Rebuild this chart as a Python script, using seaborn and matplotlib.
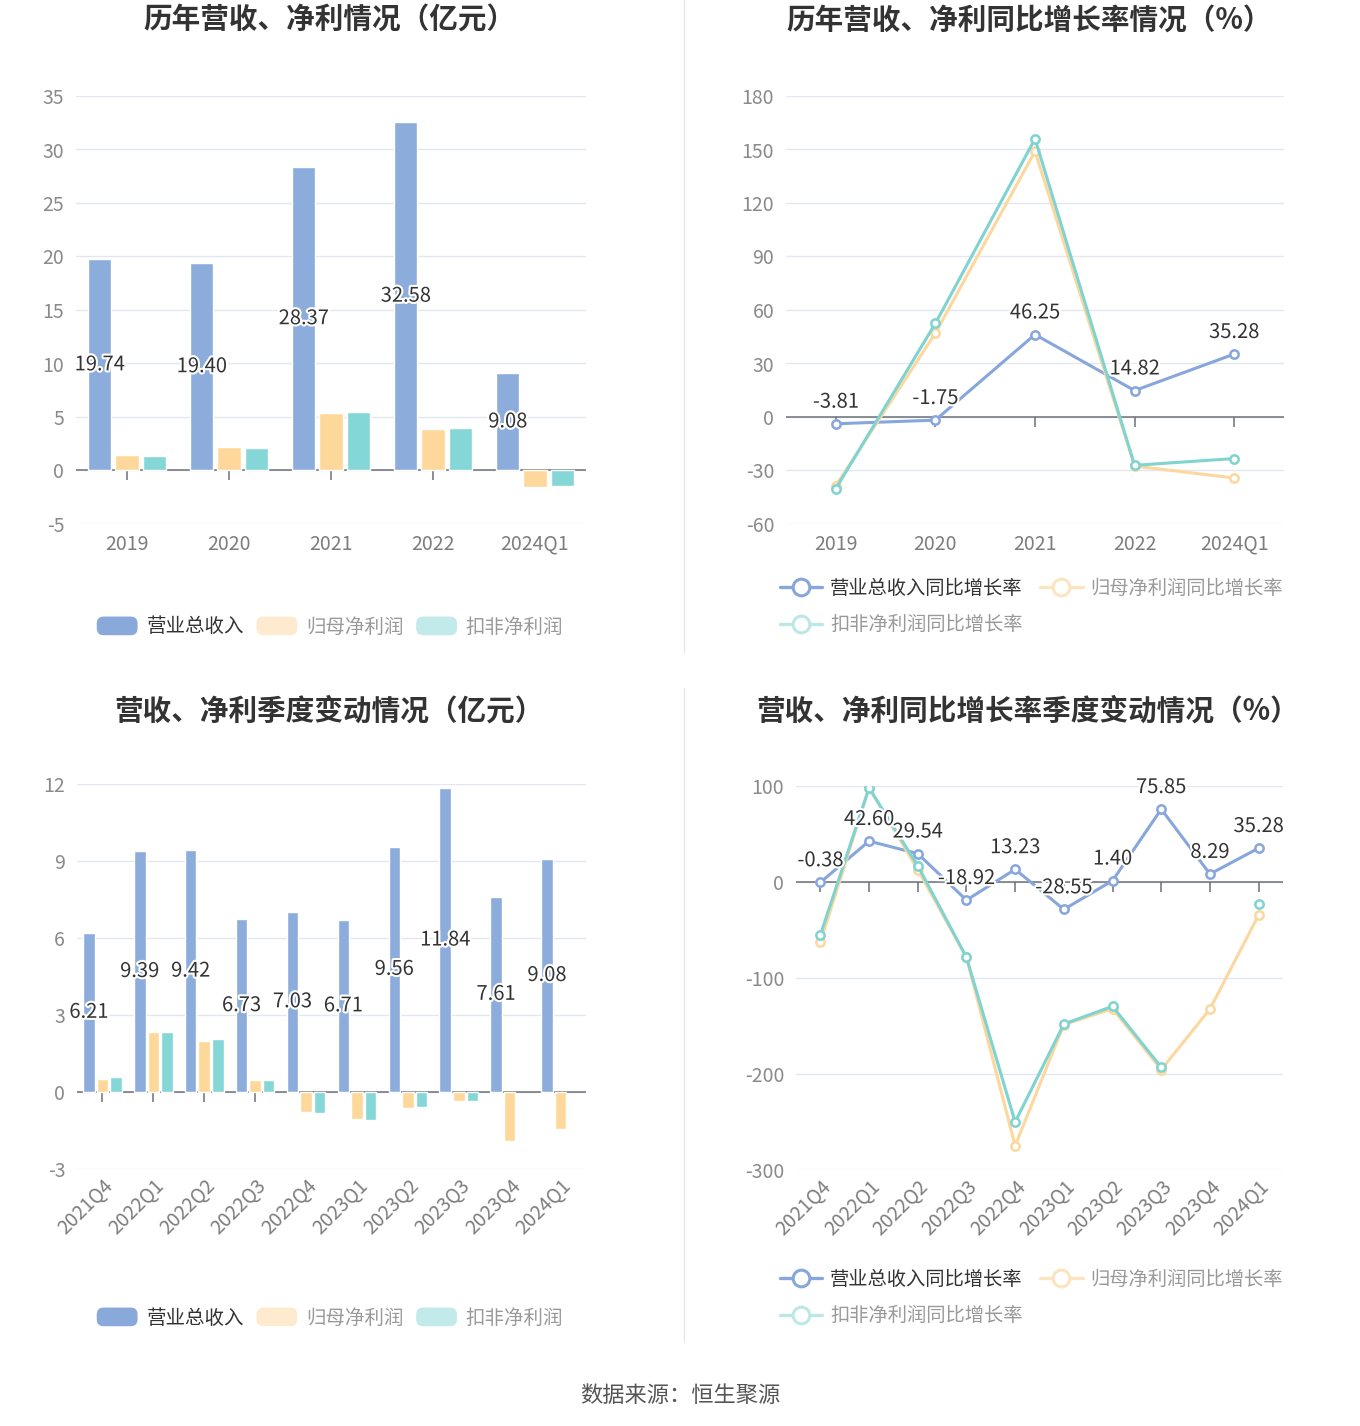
import numpy as np
import pandas as pd
import matplotlib.pyplot as plt
import matplotlib.patheffects as pe
from matplotlib.patches import Patch, FancyBboxPatch
from matplotlib.lines import Line2D
from matplotlib.legend_handler import HandlerPatch
import seaborn as sns

# data
years = ['2019', '2020', '2021', '2022', '2024Q1']
rev_year = [19.74, 19.40, 28.37, 32.58, 9.08]
np_year = [1.46, 2.15, 5.38, 3.89, -1.55]
dnp_year = [1.36, 2.12, 5.47, 3.99, -1.42]

rev_yoy_year = [-3.81, -1.75, 46.25, 14.82, 35.28]
np_yoy_year = [-38.5, 47.0, 149.0, -27.5, -34.2]
dnp_yoy_year = [-40.2, 52.5, 156.0, -27.1, -23.3]

quarters = ['2021Q4', '2022Q1', '2022Q2', '2022Q3', '2022Q4',
            '2023Q1', '2023Q2', '2023Q3', '2023Q4', '2024Q1']
rev_q = [6.21, 9.39, 9.42, 6.73, 7.03, 6.71, 9.56, 11.84, 7.61, 9.08]
np_q = [0.52, 2.32, 1.99, 0.47, -0.78, -1.07, -0.61, -0.35, -1.92, -1.43]
dnp_q = [0.57, 2.32, 2.06, 0.46, -0.81, -1.10, -0.59, -0.37, np.nan, np.nan]

rev_yoy_q = [-0.38, 42.60, 29.54, -18.92, 13.23, -28.55, 1.40, 75.85, 8.29, 35.28]
np_yoy_q = [-62.8, 98.0, 12.8, -78.5, -274.7, -148.6, -132.0, -195.5, -132.3, -34.4]
dnp_yoy_q = [-55.2, 98.0, 17.0, -78.5, -250.0, -148.0, -129.5, -193.0, np.nan, -23.3]

bar_names = ['营业总收入', '归母净利润', '扣非净利润']
line_names = ['营业总收入同比增长率', '归母净利润同比增长率', '扣非净利润同比增长率']
bar_colors = ['#8CACDB', '#FED89B', '#85D6D6']
line_colors = ['#87A6DB', '#FCD79E', '#7FD3D0']
faded_bar = ['#88A9DA', '#FEEBCF', '#C3EAEB']
faded_line = ['#87A6DB', '#FCE4BF', '#BDE7E6']

sns.set_style('white')
plt.rcParams['font.family'] = ['Noto Sans CJK SC', 'DejaVu Sans']
plt.rcParams['axes.unicode_minus'] = False

W, H = 1360, 1426
fig = plt.figure(figsize=(W / 100, H / 100), dpi=100)


def px(x0, y_top, x1, y_bot):
    return [x0 / W, 1 - y_bot / H, (x1 - x0) / W, (y_bot - y_top) / H]


stroke = [pe.withStroke(linewidth=3, foreground='white')]


class RoundHandler(HandlerPatch):
    def create_artists(self, legend, orig_handle, xdescent, ydescent,
                       width, height, fontsize, trans):
        p = FancyBboxPatch((-xdescent, -ydescent), width, height,
                           boxstyle='round,pad=0,rounding_size=5',
                           fc=orig_handle.get_facecolor(), ec='none',
                           transform=trans)
        return [p]


def style_axes(ax, ylim, yticks, rot):
    ax.set_ylim(*ylim)
    ax.set_yticks(yticks)
    ax.set_xlim(-0.5, len(ax.get_xticks()) - 0.5)
    for s in ax.spines.values():
        s.set_visible(False)
    ax.yaxis.grid(True, color='#E3E7EF', lw=1, zorder=0)
    ax.set_axisbelow(True)
    ax.axhline(0, color='#6E7079', lw=1.1, zorder=1.2)
    n = len(ax.get_xticks())
    ax.plot(range(n), [0] * n, ls='none', marker=3, ms=7, mew=1.1,
            color='#6E7079', zorder=1.1)
    ax.tick_params(axis='y', length=0, pad=8.5, labelsize=14, labelcolor='#8A8A8A')
    ax.tick_params(axis='x', length=0, labelsize=14, labelcolor='#7D7D7D')
    ax.set_xlabel('')
    ax.set_ylabel('')
    if rot:
        ax.tick_params(axis='x', pad=4)
        for t in ax.get_xticklabels():
            t.set_rotation(45)
            t.set_ha('right')
            t.set_va('top')
            t.set_rotation_mode('anchor')
    else:
        ax.tick_params(axis='x', pad=7)


def bar_panel(ax, cats, rev, np_, dnp, ylim, yticks, rot):
    df = pd.DataFrame({
        'cat': cats * 3,
        'series': [bar_names[0]] * len(cats) + [bar_names[1]] * len(cats) + [bar_names[2]] * len(cats),
        'val': list(rev) + list(np_) + list(dnp),
    })
    sns.barplot(data=df, x='cat', y='val', hue='series', hue_order=bar_names,
                palette=bar_colors, saturation=1, width=0.8, gap=0.15,
                errorbar=None, legend=False, ax=ax, zorder=2)
    texts = ax.bar_label(ax.containers[0], fmt='%.2f', label_type='center',
                         fontsize=14.5, color='#333333')
    for t in texts:
        t.set_path_effects(stroke)
    style_axes(ax, ylim, yticks, rot)


def line_panel(ax, cats, series, ylim, yticks, rot):
    x = np.arange(len(cats))
    for vals, color in zip(series, line_colors):
        d = pd.DataFrame({'x': x, 'v': vals})
        d['seg'] = d['v'].isna().cumsum()
        d = d.dropna()
        sns.lineplot(data=d, x='x', y='v', units='seg', estimator=None,
                     color=color, lw=2.2, marker='o', ms=6, mfc='white',
                     mec=color, mew=1.8, ax=ax, legend=False, zorder=3)
    for xi, v in zip(x, series[0]):
        ax.annotate(f'{v:.2f}', (xi, v), xytext=(0, 8), textcoords='offset points',
                    ha='center', va='bottom', fontsize=14.5, color='#333333',
                    path_effects=stroke, zorder=5)
    ax.set_xticks(x, cats)
    style_axes(ax, ylim, yticks, rot)


def bar_legend(cx, cy):
    handles = [Patch(facecolor=c) for c in faded_bar]
    leg = fig.legend(handles, bar_names, loc='center', bbox_to_anchor=(cx / W, 1 - cy / H),
                     ncol=3, frameon=False, fontsize=14, handlelength=2.1,
                     handleheight=1.1, handletextpad=0.45, columnspacing=0.65,
                     handler_map={Patch: RoundHandler()})
    for t, c in zip(leg.get_texts(), ['#333333', '#999999', '#999999']):
        t.set_color(c)


def line_legend(lx, ty):
    handles = [Line2D([0], [0], color=c, lw=2.4, marker='o', ms=12, mfc='white',
                      mec=c, mew=2.2) for c in faded_line]
    order = [0, 2, 1]
    leg = fig.legend([handles[i] for i in order], [line_names[i] for i in order],
                     loc='upper left', bbox_to_anchor=(lx / W, 1 - ty / H),
                     ncol=2, frameon=False, fontsize=13.9, handlelength=2.2,
                     handletextpad=0.4, columnspacing=0.9, labelspacing=0.8,
                     borderaxespad=0, borderpad=0)
    for t, i in zip(leg.get_texts(), order):
        t.set_color('#333333' if i == 0 else '#999999')


ax1 = fig.add_axes(px(76, 96, 586, 524))
bar_panel(ax1, years, rev_year, np_year, dnp_year, (-5, 35), range(-5, 36, 5), False)

ax2 = fig.add_axes(px(786, 96, 1284, 524))
line_panel(ax2, years, [rev_yoy_year, np_yoy_year, dnp_yoy_year], (-60, 180),
           range(-60, 181, 30), False)

ax3 = fig.add_axes(px(77, 784, 586, 1169))
bar_panel(ax3, quarters, rev_q, np_q, dnp_q, (-3, 12), range(-3, 13, 3), True)

ax4 = fig.add_axes(px(796, 786, 1283, 1170))
line_panel(ax4, quarters, [rev_yoy_q, np_yoy_q, dnp_yoy_q], (-300, 100),
           range(-300, 101, 100), True)

title_kw = dict(ha='center', va='center', fontsize=20.6, fontweight='bold', color='#333333')
fig.text(329 / W, 1 - 20 / H, '历年营收、净利情况（亿元）', **title_kw)
fig.text(1029 / W, 1 - 20 / H, '历年营收、净利同比增长率情况（%）', **title_kw)
fig.text(329 / W, 1 - 711 / H, '营收、净利季度变动情况（亿元）', **title_kw)
fig.text(1028 / W, 1 - 711 / H, '营收、净利同比增长率季度变动情况（%）', **title_kw)

bar_legend(330, 627)
bar_legend(330, 1318)
line_legend(780, 578)
line_legend(780, 1269)

# separators between the panels
fig.add_artist(Line2D([684 / W, 684 / W], [1 - 0 / H, 1 - 652 / H], color='#E6E6E6', lw=1))
fig.add_artist(Line2D([684 / W, 684 / W], [1 - 688 / H, 1 - 1342 / H], color='#E6E6E6', lw=1))

fig.text(680 / W, 1 - 1395 / H, '数据来源：恒生聚源', ha='center', va='center',
         fontsize=16, color='#555555')

fig.savefig('out.png', dpi=100, facecolor='white')
